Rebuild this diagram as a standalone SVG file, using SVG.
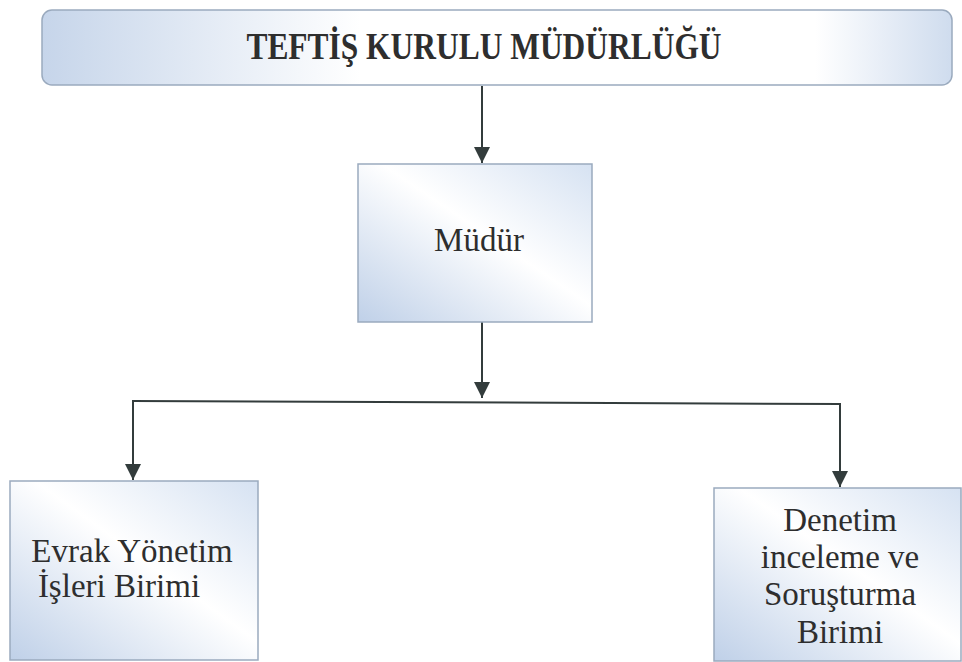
<svg xmlns="http://www.w3.org/2000/svg" width="962" height="662" viewBox="0 0 962 662">
<style>
.box{stroke:#9aaabe;stroke-width:1.5}
.t{font-family:"Liberation Serif","Times New Roman",serif;fill:#2e2e2e;text-anchor:middle;font-size:33px}
.c{stroke:#333c3c;stroke-width:2;fill:none}
</style>
<defs>
<linearGradient id="g1" x1="0" y1="1" x2="1" y2="0">
<stop offset="0" stop-color="#bfd0e8"/>
<stop offset="0.55" stop-color="#ffffff"/>
<stop offset="1" stop-color="#d6e2f2"/>
</linearGradient>
<linearGradient id="g2" x1="0" y1="0" x2="1" y2="0">
<stop offset="0" stop-color="#c6d5ea"/>
<stop offset="0.35" stop-color="#ffffff"/>
<stop offset="0.85" stop-color="#ffffff"/>
<stop offset="1" stop-color="#cfdcee"/>
</linearGradient>
<marker id="ah" markerWidth="16" markerHeight="16" refX="14" refY="7" orient="auto" markerUnits="userSpaceOnUse" viewBox="0 0 14 14">
<path d="M0,0 L14,7 L0,14 Z" fill="#333c3c"/>
</marker>
</defs>
<rect width="962" height="662" fill="#ffffff"/>
<g id="connectors">
<line class="c" x1="482" y1="86" x2="482" y2="163" marker-end="url(#ah)"/>
<line class="c" x1="482" y1="322" x2="482" y2="398" marker-end="url(#ah)"/>
<line class="c" x1="132" y1="401" x2="841" y2="404"/>
<line class="c" x1="133" y1="400" x2="133" y2="480" marker-end="url(#ah)"/>
<line class="c" x1="840" y1="403" x2="840" y2="487" marker-end="url(#ah)"/>
</g>
<g id="teftis">
<rect class="box" x="42" y="10" width="910" height="75" rx="10" fill="url(#g2)"/>
<text class="t" transform="translate(484,59) scale(0.85,1)" x="0" y="0" style="font-size:37px;font-weight:bold">TEFTİŞ KURULU MÜDÜRLÜĞÜ</text>
</g>
<g id="mudur">
<rect class="box" x="358" y="164" width="234" height="158" fill="url(#g1)"/>
<text class="t" x="479" y="251">Müdür</text>
</g>
<g id="evrak">
<rect class="box" x="10" y="481" width="248" height="179" fill="url(#g1)"/>
<text class="t" x="132" y="562">Evrak Yönetim</text>
<text class="t" x="119" y="597">İşleri Birimi</text>
</g>
<g id="denetim">
<rect class="box" x="714" y="488" width="247" height="173" fill="url(#g1)"/>
<text class="t" x="840" y="531">Denetim</text>
<text class="t" x="840" y="568">inceleme ve</text>
<text class="t" x="840" y="605">Soruşturma</text>
<text class="t" x="840" y="643">Birimi</text>
</g>
</svg>
